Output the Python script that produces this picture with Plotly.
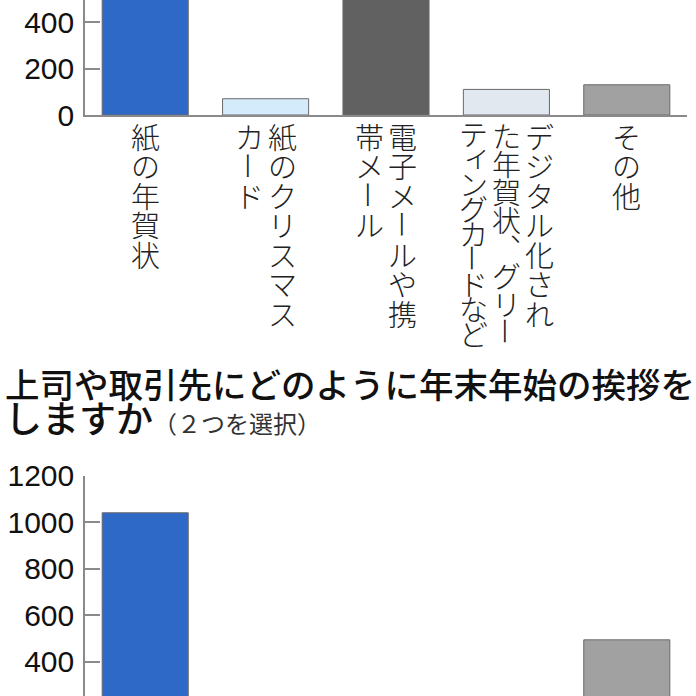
import plotly.graph_objects as go

# categories (same order in both panels); "\n" splits a label into vertical columns (right to left)
categories = ["紙の年賀状", "紙のクリスマスカード", "電子メールや携帯メール",
              "デジタル化された年賀状、グリーティングカードなど", "その他"]
cat_labels = ["紙の年賀状", "紙のクリスマス\nカード", "電子メールや携\n帯メール",
              "デジタル化され\nた年賀状、グリー\nティングカードなど", "その他"]
bar_colors = ["#2f69c7", "#d3ebfa", "#616161", "#e1e8f0", "#a1a1a1"]

# upper panel (its top is cut off in the picture) and lower panel (its bottom is cut off)
top_values = [1000, 70, 800, 110, 130]
bottom_values = [1040, 15, 220, 60, 495]

top_ticks = [0, 200, 400]
bottom_ticks = [200, 400, 600, 800, 1000, 1200]

title_main = "上司や取引先にどのように年末年始の挨拶を"
title_sub1 = "しますか"
title_sub2 = "（２つを選択）"

W, H = 696, 696
TICK_FONT = dict(family="Liberation Sans Narrow, Liberation Sans, Arial", size=30, color="#111")
CJK = "Noto Sans CJK JP"
SMALL_KANA = "ァィゥェォッャュョ"

fig = go.Figure()
fig.add_trace(go.Bar(x=categories, y=top_values, marker_color=bar_colors,
                     marker_line=dict(color="#6a6a6a", width=1),
                     xaxis="x", yaxis="y", showlegend=False))
fig.add_trace(go.Bar(x=categories, y=bottom_values, marker_color=bar_colors,
                     marker_line=dict(color="#6a6a6a", width=1),
                     xaxis="x2", yaxis="y2", showlegend=False))

axis_common = dict(showgrid=False, zeroline=False, showline=True, automargin=False,
                   linecolor="#8a8a8a", linewidth=1.5)

fig.update_layout(
    template="none",
    width=W, height=H, autosize=False,
    margin=dict(l=85, r=9, t=0, b=0, pad=0),
    paper_bgcolor="white", plot_bgcolor="white",
    bargap=0.285,
    xaxis=dict(domain=[0, 1], anchor="y", showticklabels=False, ticks="",
               range=[-0.5, 4.5], **axis_common),
    yaxis=dict(domain=[(H - 115) / H, 1], anchor="x", range=[0, 494.6],
               tickvals=top_ticks, ticks="inside", ticklen=15, tickwidth=1.5,
               tickcolor="#8a8a8a", tickfont=TICK_FONT, ticklabelstandoff=3,
               **axis_common),
    xaxis2=dict(domain=[0, 1], anchor="y2", showticklabels=False, ticks="",
                range=[-0.5, 4.5], showgrid=False, zeroline=False, showline=False,
                automargin=False),
    yaxis2=dict(domain=[0, (H - 475.5) / H], anchor="x2", range=[254, 1200],
                tickvals=bottom_ticks, ticks="inside", ticklen=15, tickwidth=1.5,
                tickcolor="#8a8a8a", tickfont=TICK_FONT, ticklabelstandoff=3,
                **axis_common),
)

# vertical (tategaki) category labels under the upper panel, one annotation per character
annotations = []
col_pitch = 33
for cat, label in zip(categories, cat_labels):
    cols = label.split("\n")
    n = len(cols)
    for j, col in enumerate(cols):
        pitch = min(29.5, 224 / len(col))
        xs = ((n - 1) / 2 - j) * col_pitch
        for i, ch in enumerate(col):
            angle, dx, dy = 0, 0, 0
            if ch == "ー":
                angle = 90
            if ch == "、":
                ch = "︑"
            if ch in SMALL_KANA:
                dx, dy = 4, 4
            annotations.append(dict(
                x=cat, xref="x", y=0, yref="y domain",
                text=ch, showarrow=False, textangle=angle,
                xanchor="center", yanchor="middle",
                xshift=xs + dx, yshift=-(6 + (i + 0.5) * pitch) + dy,
                font=dict(family=CJK, size=29, color="#222", weight=300),
            ))

# question heading of the lower panel
annotations.append(dict(
    x=(3 - 85) / 602, xref="paper", y=(H - 383) / H, yref="paper",
    xanchor="left", yanchor="middle", showarrow=False,
    text=title_main,
    font=dict(family=CJK, size=34.5, color="#111", weight=500),
))
annotations.append(dict(
    x=(3 - 85) / 602, xref="paper", y=(H - 417) / H, yref="paper",
    xanchor="left", yanchor="middle", showarrow=False,
    text=title_sub1 + "<span style='font-size:24px;color:#333;font-weight:400'>" + title_sub2 + "</span>",
    font=dict(family=CJK, size=37, color="#111", weight=500),
))

fig.update_layout(annotations=annotations)

# the page's default body margin would shift the chart by 8px
fig.write_html("out.html", config={"displayModeBar": False},
               post_script="document.body.style.margin='0';")
